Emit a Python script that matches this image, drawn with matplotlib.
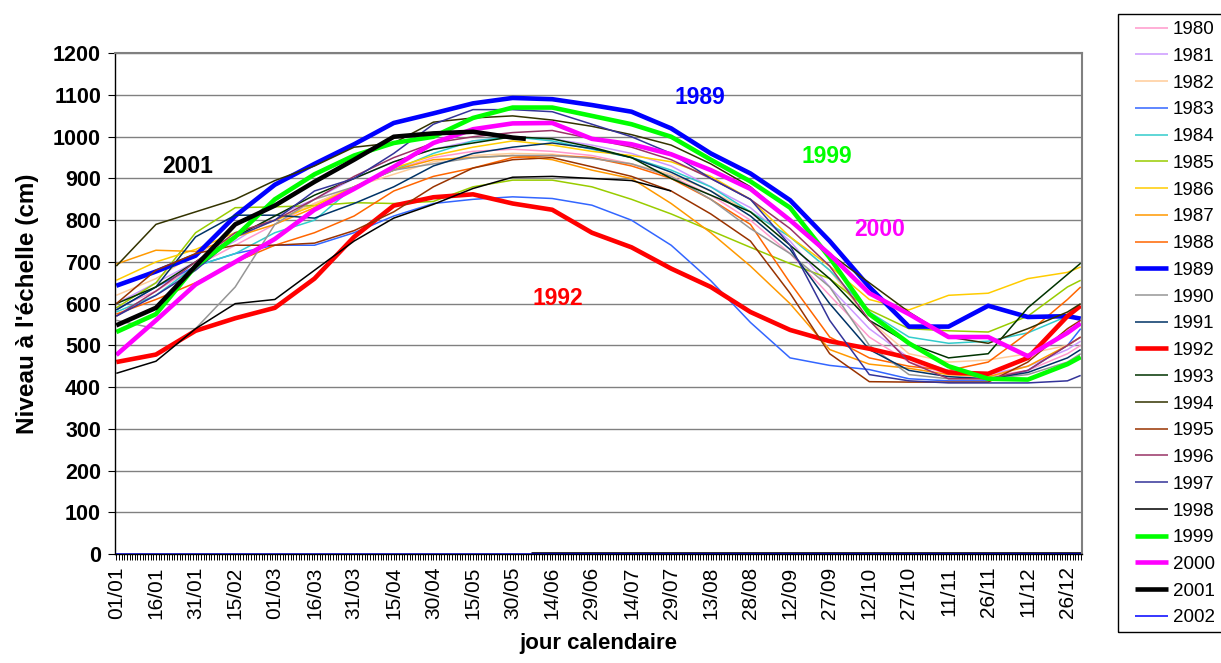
import numpy as np
import matplotlib
matplotlib.use("Agg")
import matplotlib.pyplot as plt
from matplotlib.patches import Rectangle

plt.rcParams['font.family'] = ['Liberation Sans', 'DejaVu Sans']

# sample days (0 = 01/01, leap year, 366 days)
days = [0, 15, 30, 45, 60, 75, 90, 105, 120, 135, 150, 165, 180, 195, 210,
        225, 240, 255, 270, 285, 300, 315, 330, 345, 360, 365]

tick_days = list(range(0, 361, 15))
tick_labels = ['01/01', '16/01', '31/01', '15/02', '01/03', '16/03', '31/03',
               '15/04', '30/04', '15/05', '30/05', '14/06', '29/06', '14/07',
               '29/07', '13/08', '28/08', '12/09', '27/09', '12/10', '27/10',
               '11/11', '26/11', '11/12', '26/12']

y1980 = [590, 630, 690, 740, 790, 840, 880, 920, 950, 965, 970, 965, 955, 935, 905, 860, 800, 720, 620, 520, 460, 430, 425, 440, 480, 500]
y1981 = [600, 650, 700, 750, 810, 850, 900, 940, 970, 990, 1000, 995, 980, 960, 930, 880, 830, 750, 640, 540, 470, 440, 430, 450, 490, 510]
y1982 = [620, 660, 720, 760, 800, 840, 880, 910, 940, 955, 960, 958, 950, 935, 910, 870, 820, 760, 680, 560, 480, 460, 465, 480, 500, 520]
y1983 = [585, 640, 690, 720, 740, 740, 770, 810, 840, 850, 856, 852, 836, 800, 740, 655, 555, 470, 452, 442, 420, 415, 415, 440, 500, 540]
y1984 = [580, 620, 690, 720, 770, 800, 880, 920, 960, 990, 1000, 990, 970, 950, 920, 880, 820, 760, 680, 580, 520, 505, 510, 530, 570, 592]
y1985 = [590, 650, 770, 830, 832, 835, 842, 840, 845, 880, 896, 896, 880, 850, 815, 775, 735, 696, 660, 585, 540, 535, 532, 570, 640, 656]
y1986 = [656, 700, 730, 770, 800, 835, 880, 925, 955, 975, 990, 980, 965, 955, 940, 905, 850, 760, 690, 610, 585, 620, 625, 660, 675, 688]
y1987 = [695, 728, 725, 760, 790, 830, 880, 920, 945, 950, 955, 945, 920, 900, 840, 770, 690, 600, 490, 455, 445, 430, 425, 450, 500, 520]
y1988 = [575, 610, 650, 700, 740, 770, 810, 870, 905, 925, 950, 955, 950, 930, 900, 850, 790, 650, 520, 470, 450, 440, 460, 530, 610, 640]
y1989 = [643, 677, 715, 810, 885, 935, 982, 1033, 1056, 1080, 1093, 1090, 1076, 1060, 1020, 960, 912, 848, 750, 640, 545, 545, 595, 568, 570, 564]
y1990 = [560, 540, 540, 640, 790, 850, 880, 920, 935, 950, 955, 955, 948, 935, 905, 850, 780, 720, 640, 500, 430, 420, 420, 430, 460, 480]
y1991 = [585, 640, 760, 812, 812, 805, 840, 880, 930, 960, 975, 985, 972, 950, 915, 870, 810, 730, 600, 490, 440, 425, 420, 435, 470, 490]
y1992 = [460, 478, 535, 565, 590, 660, 760, 835, 855, 862, 840, 825, 770, 735, 684, 640, 580, 537, 510, 492, 470, 435, 432, 470, 570, 595]
y1993 = [600, 640, 700, 760, 810, 860, 900, 940, 970, 985, 1000, 995, 975, 950, 900, 860, 820, 740, 660, 560, 505, 470, 480, 590, 670, 697]
y1994 = [690, 790, 820, 850, 895, 930, 975, 985, 1035, 1045, 1050, 1040, 1025, 1005, 980, 935, 880, 800, 720, 650, 580, 520, 505, 540, 580, 600]
y1995 = [600, 680, 720, 740, 740, 745, 775, 820, 880, 925, 945, 950, 928, 905, 870, 815, 750, 625, 480, 413, 412, 412, 412, 460, 540, 560]
y1996 = [570, 630, 700, 770, 800, 850, 905, 950, 985, 1000, 1010, 1015, 995, 975, 945, 900, 850, 780, 690, 560, 460, 420, 420, 440, 500, 520]
y1997 = [570, 620, 680, 760, 800, 870, 900, 960, 1030, 1065, 1065, 1060, 1030, 1000, 960, 900, 850, 740, 560, 430, 415, 410, 410, 410, 415, 428]
y1998 = [433, 462, 540, 600, 610, 680, 750, 805, 838, 876, 903, 905, 900, 895, 870, None, None, None, None, None, None, None, None, None, None, None]
y1999 = [532, 575, 690, 760, 850, 910, 955, 985, 1000, 1045, 1070, 1070, 1050, 1030, 1000, 945, 893, 830, 710, 575, 505, 450, 420, 418, 455, 472]
y2000 = [477, 560, 646, 700, 755, 825, 875, 928, 985, 1018, 1032, 1033, 995, 982, 958, 920, 875, 800, 718, 625, 575, 520, 520, 474, 530, 553]
# 2001: measured part up to early June, then zero values
days2001 = [0, 15, 30, 45, 60, 75, 90, 105, 120, 135, 150, 155]
y2001 = [548, 590, 690, 790, 835, 892, 945, 1000, 1008, 1012, 998, 995]
days2001_zero = [157, 365]
y2001_zero = [0, 0]
days2002 = [0, 365]
y2002 = [0, 0]

series = [
    ('1980', days, y1980, '#FF99CC', 1.1),
    ('1981', days, y1981, '#CC99FF', 1.1),
    ('1982', days, y1982, '#FFCC99', 1.1),
    ('1983', days, y1983, '#3366FF', 1.1),
    ('1984', days, y1984, '#33CCCC', 1.1),
    ('1985', days, y1985, '#99CC00', 1.1),
    ('1986', days, y1986, '#FFCC00', 1.1),
    ('1987', days, y1987, '#FF9900', 1.1),
    ('1988', days, y1988, '#FF6600', 1.1),
    ('1989', days, y1989, '#0000FF', 3.3),
    ('1990', days, y1990, '#969696', 1.1),
    ('1991', days, y1991, '#003366', 1.1),
    ('1992', days, y1992, '#FF0000', 3.3),
    ('1993', days, y1993, '#003300', 1.1),
    ('1994', days, y1994, '#333300', 1.1),
    ('1995', days, y1995, '#993300', 1.1),
    ('1996', days, y1996, '#993366', 1.1),
    ('1997', days, y1997, '#333399', 1.1),
    ('1998', days, y1998, '#000000', 1.1),
    ('1999', days, y1999, '#00FF00', 3.3),
    ('2000', days, y2000, '#FF00FF', 3.3),
    ('2001', days2001, y2001, '#000000', 3.3),
    ('2002', days2002, y2002, '#0000FF', 1.1),
]

W, H = 1221, 663
fig = plt.figure(figsize=(W/100, H/100), dpi=100)
ax = fig.add_axes([115/W, 1-554/H, (1082-115)/W, (554-53.3)/H])

handles = []
for name, xd, yd, col, lw in series:
    yv = np.array([np.nan if v is None else v for v in yd], dtype=float)
    h, = ax.plot(xd, yv, color=col, lw=lw, label=name, solid_capstyle='butt')
    handles.append(h)
    if name == '2001':
        ax.plot(days2001_zero, y2001_zero, color=col, lw=lw, solid_capstyle='butt')

ax.set_xlim(-0.5, 365.5)
ax.set_ylim(0, 1200)
ax.set_yticks(range(0, 1201, 100))
ax.yaxis.grid(True, color='#808080', lw=1.0)
ax.set_axisbelow(True)
ax.set_xticks(tick_days)
ax.set_xticklabels(tick_labels, rotation=90, fontsize=15)
ax.set_xticks(np.arange(0, 366), minor=True)
ax.tick_params(axis='x', which='both', direction='out', length=4, width=0.7, color='black', pad=5)
ax.tick_params(axis='y', direction='out', length=5, width=0.8, pad=5)
for lab in ax.get_yticklabels():
    lab.set_fontweight('bold')
    lab.set_fontsize(15.5)

for s in ['top', 'right']:
    ax.spines[s].set_color('#808080')
    ax.spines[s].set_linewidth(1.5)
for s in ['left', 'bottom']:
    ax.spines[s].set_color('black')
    ax.spines[s].set_linewidth(1.0)

ax.set_ylabel("Niveau à l'échelle (cm)", fontsize=17.5, fontweight='bold', labelpad=10)
ax.set_xlabel('jour calendaire', fontsize=16, fontweight='bold', labelpad=10)

ann = [('1989', 221, 1095, '#0000FF'), ('2001', 27, 929, '#000000'),
       ('1999', 269, 953, '#00FF00'), ('2000', 289, 778, '#FF00FF'),
       ('1992', 167, 613, '#FF0000')]
for t, xx, yy, c in ann:
    ax.text(xx, yy, t, color=c, fontsize=16.5, fontweight='bold', ha='center', va='center')

# legend frame drawn as a figure rectangle, entries placed inside
fig.patches.append(Rectangle((1118/W, 1-632/H), 120/W, (632-14)/H, transform=fig.transFigure,
                             fill=False, edgecolor='black', lw=1.0))
leg = fig.legend(handles=handles, loc='upper left', bbox_to_anchor=(1135/W, 1-21/H),
                 fontsize=13.5, frameon=False,
                 labelspacing=0.513, handlelength=1.75, handletextpad=0.25, borderpad=0,
                 borderaxespad=0)

fig.savefig('out.png', dpi=100)
